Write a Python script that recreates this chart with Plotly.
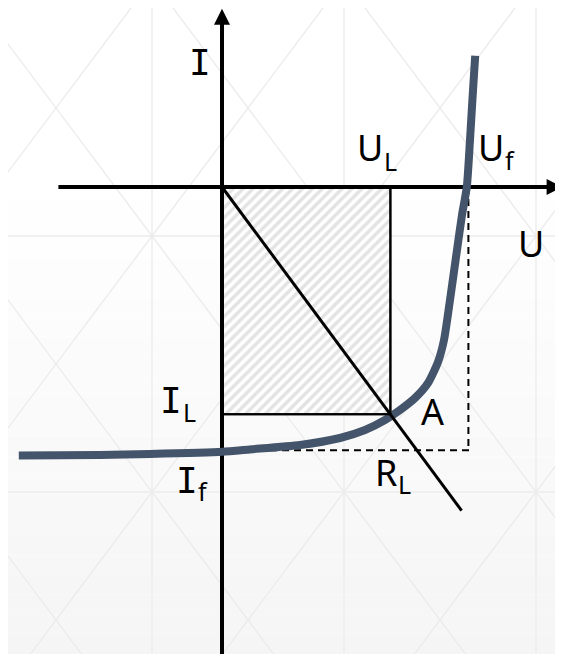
import plotly.graph_objects as go

# ---------------- data (arbitrary units, origin at the axes crossing) ----------------
U_L = 4.21      # load voltage
I_L = -5.68     # load current
U_f = 6.16      # open-circuit voltage
I_f = -6.58     # short-circuit current
R_L_end_U = 5.99  # end of the load line R_L
R_L_end_I = -8.09

curve_U = [-5.08, -3.05, -1.8, 0.0, 0.7, 1.95, 2.95, 3.575, 4.075, 4.45, 4.825,
           5.15, 5.4, 5.55, 5.7, 5.875, 6.0, 6.12, 6.2, 6.26, 6.33]
curve_I = [-6.71, -6.7, -6.675, -6.62, -6.56, -6.45, -6.275, -6.075, -5.825, -5.575, -5.275,
           -4.9, -4.375, -3.825, -2.825, -1.575, -0.7, 0.0, 1.175, 2.175, 3.28]

label_main = ["I", "U", "U", "U", "I", "I", "A", "R"]
label_sub = ["L", "f", "L", "f", "L"]

# ---------------- figure geometry ----------------
W, H = 555, 646          # page adds an 8px body margin
OFF = 8
PX = 40.0                # pixels per unit
OX, OY = 222 - OFF, 187 - OFF   # origin inside the figure, px
X_RANGE = [-OX / PX, (W - OX) / PX]
Y_RANGE = [-(H - OY) / PX, OY / PX]

INK = "black"
CURVE = "#44546a"

fig = go.Figure()

# hatched power rectangle
fig.add_trace(go.Scatter(
    x=[0, U_L, U_L, 0, 0], y=[0, 0, I_L, I_L, 0],
    mode="lines", fill="toself",
    fillpattern=dict(shape="/", fgcolor="#c8c8c8", bgcolor="white", size=7, solidity=0.5),
    line=dict(color=INK, width=2), hoverinfo="skip"))

# dashed guides at U_f and I_f
fig.add_trace(go.Scatter(
    x=[U_f, U_f, None, 0, U_f + 0.12], y=[0, I_f, None, I_f, I_f],
    mode="lines", line=dict(color=INK, width=2, dash="7px,5px"), hoverinfo="skip"))

# axes with arrow heads
fig.add_trace(go.Scatter(x=[-4.09, 8.3], y=[0, 0], mode="lines",
                         line=dict(color=INK, width=4), hoverinfo="skip"))
fig.add_trace(go.Scatter(x=[0, 0], y=[Y_RANGE[0] - 1, 4.2], mode="lines",
                         line=dict(color=INK, width=4), hoverinfo="skip"))
fig.add_trace(go.Scatter(x=[X_RANGE[1] - 0.01], y=[0], mode="markers", cliponaxis=False,
                         marker=dict(symbol="arrow-right", size=16, color=INK), hoverinfo="skip"))
fig.add_trace(go.Scatter(x=[0], y=[Y_RANGE[1] - 0.02], mode="markers", cliponaxis=False,
                         marker=dict(symbol="arrow-up", size=16, color=INK), hoverinfo="skip"))

# I-U characteristic
fig.add_trace(go.Scatter(x=curve_U, y=curve_I, mode="lines",
                         line=dict(color=CURVE, width=8, shape="spline", smoothing=0.6),
                         hoverinfo="skip"))

# load line R_L and rectangle edges
fig.add_trace(go.Scatter(x=[0, R_L_end_U], y=[0, R_L_end_I], mode="lines",
                         line=dict(color=INK, width=3), hoverinfo="skip"))
fig.add_trace(go.Scatter(x=[U_L, U_L, 0], y=[0, I_L, I_L], mode="lines",
                         line=dict(color=INK, width=2), hoverinfo="skip"))

# labels (glyph centres, data units)
main_pos = [(-0.55, 3.11), (3.6875, 0.99), (6.725, 0.99), (7.725, -1.40),
            (-1.275, -5.33), (-0.8875, -7.34), (5.26, -5.61), (4.0875, -7.14)]
sub_pos = [(4.2125, 0.66), (7.1875, 0.675), (-0.8125, -5.63), (-0.475, -7.61), (4.55, -7.43)]

for txt, (lx, ly) in zip(label_main, main_pos):
    fam = "DejaVu Sans Mono" if txt == "I" else "Noto Sans"
    fig.add_annotation(x=lx, y=ly, text=txt, showarrow=False, xanchor="center", yanchor="middle",
                       borderpad=0, font=dict(family=fam, size=36, color=INK))
for txt, (lx, ly) in zip(label_sub, sub_pos):
    fig.add_annotation(x=lx, y=ly, text=txt, showarrow=False, xanchor="center", yanchor="middle",
                       borderpad=0, font=dict(family="Noto Sans", size=25, color=INK))

# ---------------- background: soft gradient + faint lattice ----------------
def px_x(p):
    return (p - OFF) / W


def px_y(p):
    return 1 - (p - OFF) / H


shapes = []
bands = 24
for k in range(bands):
    y0 = 180 + (654 - 180) * k / bands
    y1 = 180 + (654 - 180) * (k + 1) / bands
    g = round(255 - 10 * (k + 0.5) / bands)
    shapes.append(dict(type="rect", xref="paper", yref="paper", x0=0, x1=1,
                       y0=px_y(y1), y1=px_y(y0), line=dict(width=0),
                       fillcolor=f"rgb({g},{g},{g})", layer="below"))
lat = dict(color="#ebebeb", width=1.3)
for xv in (152, 344, 536):
    shapes.append(dict(type="line", xref="paper", yref="paper", x0=px_x(xv), x1=px_x(xv),
                       y0=0, y1=1, line=lat, layer="below"))
for yv in (236, 492):
    shapes.append(dict(type="line", xref="paper", yref="paper", x0=0, x1=1,
                       y0=px_y(yv), y1=px_y(yv), line=lat, layer="below"))
for k in range(-4, 6):
    xc = 152 + 192 * k
    for s in (0.75, -0.75):
        ya, yb = -50, 704
        xa, xb = xc + s * (ya - 236), xc + s * (yb - 236)
        shapes.append(dict(type="line", xref="paper", yref="paper",
                           x0=px_x(xa), x1=px_x(xb), y0=px_y(ya), y1=px_y(yb),
                           line=lat, layer="below"))

fig.update_layout(
    width=W, height=H, margin=dict(l=0, r=0, t=0, b=0),
    paper_bgcolor="white", plot_bgcolor="rgba(0,0,0,0)",
    showlegend=False, shapes=shapes,
    xaxis=dict(range=X_RANGE, visible=False, fixedrange=True),
    yaxis=dict(range=Y_RANGE, visible=False, fixedrange=True),
)

fig.write_html("out.html")
